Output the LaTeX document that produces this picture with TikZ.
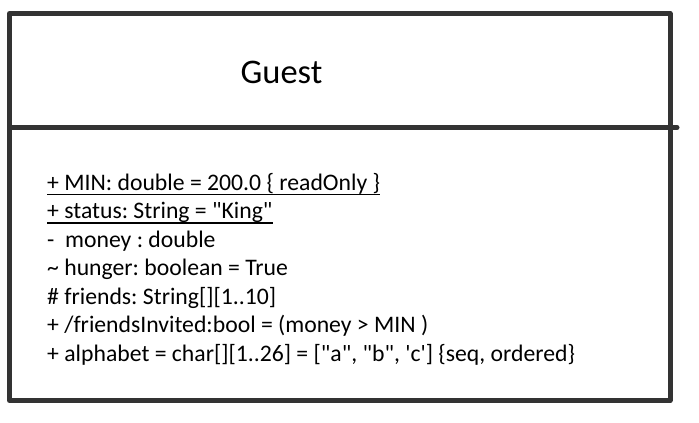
\documentclass[tikz,border=0pt]{standalone}
\usepackage{fontspec}
\setmainfont{Carlito}[Ligatures=TeXOff]
\frenchspacing
\definecolor{boxgray}{HTML}{333333}
\tikzset{
  frame/.style={draw=boxgray, line width=5pt, line join=round, line cap=round},
  attr/.style={anchor=base west, inner sep=0pt, font=\fontsize{23.7}{26}\selectfont, text=black},
  title/.style={anchor=base, inner sep=0pt, font=\fontsize{34.5}{38}\selectfont, text=black},
  uline/.style={draw=black, line width=1.8pt}
}
\begin{document}
\begin{tikzpicture}[x=1pt,y=-1pt]
\useasboundingbox (0,0) rectangle (699,423);
\coordinate (tl) at (9.5,13.5);
\coordinate (tr) at (670,13.5);
\coordinate (bl) at (9.5,400.5);
\coordinate (br) at (670,400.5);
\coordinate (dl) at (9.5,127.5);
\coordinate (dr) at (677,127.5);
\draw[frame] (tl) -- (tr) -- (br) -- (bl) -- cycle;
\draw[frame] (dl) -- (dr);
\node[title] (name) at (281.5,83) {Guest};
\node[attr] (a1) at (47,190) {+ MIN: double = 200.0 \{ readOnly \}};
\node[attr] (a2) at (47,218.5) {+ status: String = "King"};
\node[attr] (a3) at (47,247) {-\ \ money : double};
\node[attr] (a4) at (47,275.5) {\textasciitilde\ hunger: boolean = True};
\node[attr] (a5) at (47,304) {\# friends: String[][1..10]};
\node[attr] (a6) at (47,332.5) {+ /friendsInvited:bool = (money > MIN )};
\node[attr] (a7) at (47,361) {+ alphabet = char[][1..26] = ["a", "b", 'c'] \{seq, ordered\}};
\draw[uline] ([yshift=-4.5pt]a1.base west) -- ([yshift=-4.5pt]a1.base east);
\draw[uline] ([yshift=-4.5pt]a2.base west) -- ([yshift=-4.5pt]a2.base east);
\end{tikzpicture}
\end{document}
